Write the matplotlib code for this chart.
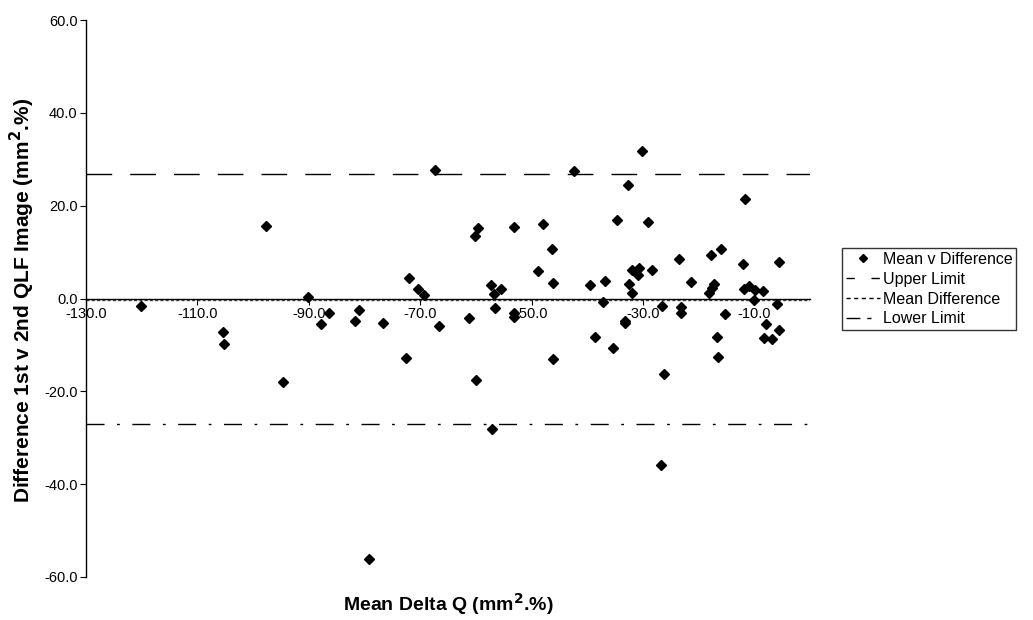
import numpy as np
import matplotlib.pyplot as plt
from matplotlib.lines import Line2D

plt.rcParams['font.family'] = ['Liberation Sans', 'DejaVu Sans']

# mean of the two measurements and their difference
mean_q = [-120.1, -97.6, -90.1, -86.3, -87.8, -105.4, -105.3, -94.6,
          -67.4, -60.1, -59.6, -53.2, -48.0, -46.4, -48.8, -46.1,
          -72.0, -70.4, -69.3, -57.3, -55.4, -56.8, -56.6, -61.2,
          -53.2, -53.1, -66.6, -76.7, -81.7, -80.9, -72.6, -60.0,
          -46.2, -57.1, -26.8, -79.1,
          -42.4, -30.1, -32.6, -34.7, -29.1, -11.6, -23.5, -17.7,
          -16.0, -12.0, -5.6, -39.5, -36.8, -32.5, -32.0, -30.7,
          -30.9, -28.3, -32.0, -21.3, -17.3, -17.6, -18.1, -11.9,
          -10.9, -9.9, -8.4, -10.1, -6.0, -37.2, -26.6, -23.2,
          -23.2, -15.3, -33.2, -33.3, -7.9, -5.6, -38.6, -16.7,
          -8.2, -6.9, -35.3, -16.5, -26.3]
diff_q = [-1.6, 15.6, 0.3, -3.2, -5.5, -7.2, -9.8, -18.0,
          27.7, 13.4, 15.2, 15.5, 16.1, 10.7, 5.9, 3.3,
          4.5, 2.0, 0.8, 2.9, 2.0, 1.0, -2.0, -4.1,
          -3.2, -3.9, -6.0, -5.3, -4.8, -2.5, -12.9, -17.6,
          -13.0, -28.1, -35.9, -56.1,
          27.5, 31.7, 24.4, 17.0, 16.5, 21.4, 8.6, 9.4,
          10.6, 7.4, 7.8, 2.9, 3.8, 3.2, 6.1, 6.5,
          5.0, 6.1, 1.1, 3.6, 3.1, 2.3, 1.1, 2.0,
          2.7, 1.8, 1.6, -0.3, -1.2, -0.8, -1.7, -1.9,
          -3.2, -3.4, -4.8, -5.3, -5.5, -6.8, -8.4, -8.4,
          -8.6, -8.8, -10.6, -12.5, -16.2]

upper_limit = 26.8
mean_diff = -0.3
lower_limit = -27.0

x_ticks = [-130, -110, -90, -70, -50, -30, -10]
y_ticks = [-60, -40, -20, 0, 20, 40, 60]

fig = plt.figure(figsize=(10.33, 6.2), dpi=100)
ax = fig.add_axes([86/1033, 1-577/620, (810-86)/1033, (577-20)/620])

ax.plot(mean_q, diff_q, linestyle='none', marker='D', markersize=5,
        color='black', zorder=5)
ax.plot([-130, 0], [upper_limit]*2, color='black', lw=1.0, dashes=(18.5, 13))
ax.plot([-130, 0], [mean_diff]*2, color='#444444', lw=1.0, dashes=(2.2, 1.6))
ax.plot([-130, 0], [lower_limit]*2, color='black', lw=1.0,
        dashes=(13, 9, 2, 9))

ax.set_xlim(-130, 0)
ax.set_ylim(-60, 60)
ax.spines['top'].set_visible(False)
ax.spines['right'].set_visible(False)
ax.spines['bottom'].set_position(('data', 0))
ax.spines['bottom'].set_linewidth(1.0)
ax.spines['left'].set_linewidth(1.0)

ax.set_xticks(x_ticks)
ax.set_xticklabels([f'{v:.1f}' for v in x_ticks])
ax.set_yticks(y_ticks)
ax.set_yticklabels([f'{v:.1f}' for v in y_ticks])
ax.tick_params(axis='both', direction='out', length=4, width=0.8,
               labelsize=10.5, pad=2)

fig.text(448/1033, 1-604/620, 'Mean Delta Q (mm$^{\\mathbf{2}}$.%)',
         ha='center', va='center', fontsize=14, fontweight='bold')
fig.text(22/1033, 1-300/620,
         'Difference 1st v 2nd QLF Image (mm$^{\\mathbf{2}}$.%)',
         ha='center', va='center', rotation=90, fontsize=15,
         fontweight='bold')

# legend proxies with short dash patterns like the original
handles = [
    Line2D([], [], linestyle='none', marker='D', markersize=4, color='black'),
    Line2D([], [], color='black', lw=1.0, dashes=(6, 12)),
    Line2D([], [], color='black', lw=1.0, dashes=(3, 2.5)),
    Line2D([], [], color='black', lw=1.0, dashes=(10, 5, 3, 20)),
]
labels = ['Mean v Difference', 'Upper Limit', 'Mean Difference', 'Lower Limit']
leg = fig.legend(handles, labels, loc='upper left',
                 bbox_to_anchor=(842/1033, 1-248/620), fontsize=11.5,
                 frameon=True, fancybox=False, edgecolor='black',
                 handlelength=2.1, handletextpad=0.2, borderpad=0.25,
                 labelspacing=0.3, borderaxespad=0)
leg.get_frame().set_linewidth(1.0)

fig.savefig('out.png', dpi=100)
